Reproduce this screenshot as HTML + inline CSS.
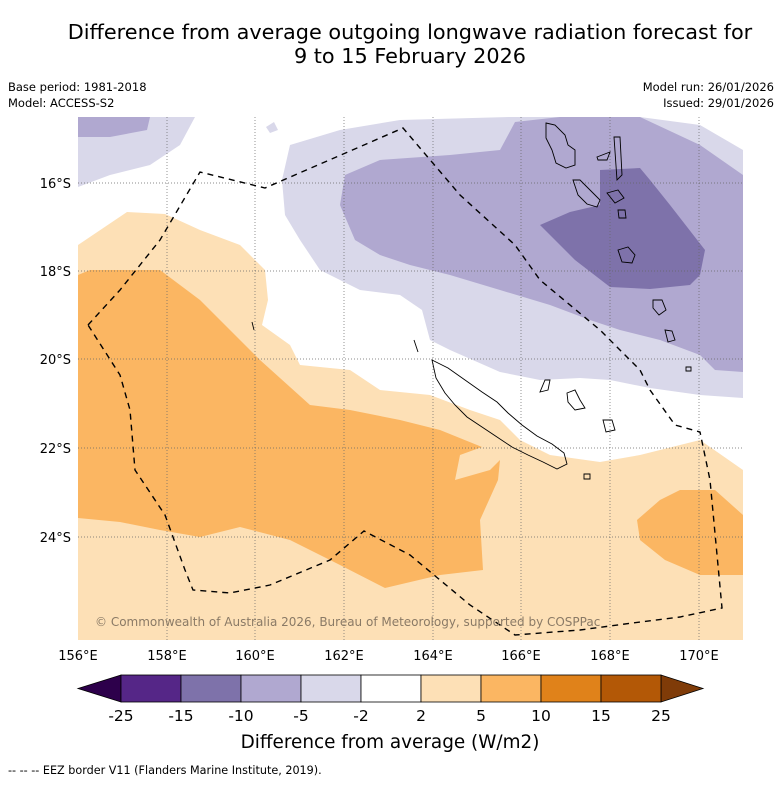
<!DOCTYPE html>
<html><head><meta charset="utf-8"><style>
body{margin:0;background:#fff;width:781px;height:781px;overflow:hidden;font-family:"Liberation Sans","DejaVu Sans",sans-serif}
</style></head><body>
<svg width="781" height="781" xmlns="http://www.w3.org/2000/svg" font-family="'DejaVu Sans','Liberation Sans',sans-serif">
<text x="410" y="39" font-size="20.8" text-anchor="middle">Difference from average outgoing longwave radiation forecast for</text>
<text x="410" y="63" font-size="20.8" text-anchor="middle">9 to 15 February 2026</text>
<text x="8" y="91" font-size="11.5">Base period: 1981-2018</text>
<text x="8" y="107" font-size="11.5">Model: ACCESS-S2</text>
<text x="774" y="91" font-size="11.5" text-anchor="end">Model run: 26/01/2026</text>
<text x="774" y="107" font-size="11.5" text-anchor="end">Issued: 29/01/2026</text>
<defs><clipPath id="mc"><rect x="78" y="117" width="665" height="523"/></clipPath></defs>
<g clip-path="url(#mc)">
<rect x="78" y="117" width="665" height="523" fill="#fff"/>
<path fill="#fde0b6" d="M78,245 L127,212 L165,214 L200,230 L240,245 L265,270 L268,300 L262,325 L290,345 L300,365 L350,370 L380,390 L430,395 L470,410 L500,420 L520,440 L550,455 L600,462 L640,455 L700,440 L743,470 L743,640 L78,640Z"/>
<path fill="#fbb662" d="M78,275 L90,270 L160,270 L200,300 L260,360 L310,405 L350,410 L400,420 L440,430 L482,447 L460,455 L455,480 L490,470 L500,460 L498,480 L480,520 L483,570 L440,575 L385,588 L340,565 L290,540 L240,527 L200,537 L160,530 L120,522 L78,518Z"/>
<path fill="#fbb662" d="M637,520 L660,500 L680,490 L715,490 L743,515 L743,575 L700,575 L665,560 L640,540Z"/>
<path fill="#d9d8ea" d="M78,117 L195,117 L180,145 L150,165 L110,175 L78,187Z"/>
<path fill="#d9d8ea" d="M290,145 L340,130 L400,120 L510,117 L640,117 L700,125 L743,150 L743,398 L700,395 L650,388 L610,380 L580,378 L540,380 L500,372 L450,350 L430,340 L422,310 L400,295 L360,290 L320,270 L300,240 L285,215 L282,180Z"/>
<path fill="#d9d8ea" d="M266,127 L274,122 L278,130 L270,133Z"/>
<path fill="#b0a8d0" d="M78,117 L150,117 L147,130 L110,137 L78,137Z"/>
<path fill="#b0a8d0" d="M345,175 L380,160 L450,155 L500,150 L515,122 L560,117 L640,117 L700,145 L743,175 L743,372 L715,370 L700,355 L660,340 L620,330 L590,320 L550,305 L500,290 L450,275 L410,265 L380,255 L355,240 L340,205Z"/>
<path fill="#7e72aa" d="M540,225 L570,212 L600,205 L600,170 L640,168 L650,180 L670,205 L705,250 L700,275 L690,285 L650,289 L610,287 L575,260Z"/>
<g stroke="#666" stroke-width="0.7" stroke-dasharray="1,2">
<line x1="167" y1="117" x2="167" y2="640"/><line x1="255" y1="117" x2="255" y2="640"/><line x1="344" y1="117" x2="344" y2="640"/><line x1="433" y1="117" x2="433" y2="640"/><line x1="521" y1="117" x2="521" y2="640"/><line x1="610" y1="117" x2="610" y2="640"/><line x1="699" y1="117" x2="699" y2="640"/>
<line x1="78" y1="183" x2="743" y2="183"/><line x1="78" y1="271" x2="743" y2="271"/><line x1="78" y1="359" x2="743" y2="359"/><line x1="78" y1="448" x2="743" y2="448"/><line x1="78" y1="537" x2="743" y2="537"/>
</g>
<g fill="none" stroke="#000" stroke-width="0.9">
<path d="M432,360 L448,368 L465,380 L482,392 L497,402 L508,413 L522,425 L537,436 L552,444 L564,453 L567,464 L557,469 L543,462 L528,455 L512,447 L497,437 L482,427 L467,417 L455,405 L445,393 L436,378Z"/>
<path d="M546,123 L555,125 L565,135 L568,145 L575,150 L575,165 L566,168 L556,163 L552,150 L546,138Z"/>
<path d="M573,180 L580,180 L590,190 L600,200 L597,207 L587,204 L578,195Z"/>
<path d="M614,137 L620,137 L622,175 L617,180Z"/><path d="M597,157 L610,152 L607,160 L598,160Z"/>
<path d="M607,193 L618,190 L624,198 L615,203Z"/><path d="M618,210 L625,210 L626,218 L619,218Z"/>
<path d="M618,250 L628,247 L635,255 L632,263 L622,262Z"/>
<path d="M653,300 L662,300 L666,310 L659,315 L653,308Z"/><path d="M665,330 L672,331 L675,340 L668,342Z"/>
<path d="M686,367 L691,367 L691,371 L686,371Z"/>
<path d="M545,380 L550,380 L548,390 L540,392Z"/><path d="M567,393 L575,390 L580,400 L585,408 L575,410 L568,402Z"/>
<path d="M603,420 L612,420 L615,430 L606,432Z"/><path d="M584,474 L590,474 L590,479 L584,479Z"/>
<path d="M414,340 L418,352"/><path d="M252,322 L254,330"/>
</g>
<path fill="none" stroke="#000" stroke-width="1.4" stroke-dasharray="6,5" d="M88,325 L120,290 L160,240 L200,172 L265,188 L403,128 L460,195 L515,245 L540,280 L600,330 L640,370 L650,390 L675,425 L700,432 L710,480 L722,608 L680,617 L640,622 L580,630 L515,635 L470,605 L440,580 L410,555 L364,531 L330,560 L270,585 L230,593 L193,590 L185,570 L165,515 L135,470 L130,410 L120,375Z"/>
<text x="95" y="626" font-size="12" fill="#8a7a66">© Commonwealth of Australia 2026, Bureau of Meteorology, supported by COSPPac</text>
</g>
<g font-size="13" text-anchor="end">
<text x="71" y="188">16°S</text><text x="71" y="276">18°S</text><text x="71" y="364">20°S</text><text x="71" y="453">22°S</text><text x="71" y="542">24°S</text>
</g>
<g font-size="13" text-anchor="middle">
<text x="78" y="660">156°E</text><text x="167" y="660">158°E</text><text x="255" y="660">160°E</text><text x="344" y="660">162°E</text><text x="433" y="660">164°E</text><text x="521" y="660">166°E</text><text x="610" y="660">168°E</text><text x="699" y="660">170°E</text>
</g>
<g id="cbar"></g>
<text x="390" y="748" font-size="18.4" text-anchor="middle">Difference from average (W/m2)</text>
<text x="8" y="774" font-size="11.2">--  --  -- EEZ border V11 (Flanders Marine Institute, 2019).</text>
</svg>
<script>
const levels=[-25,-15,-10,-5,-2,2,5,10,15,25];
const colors=["#552687","#7e72aa","#b0a8d0","#d9d8ea","#ffffff","#fde0b6","#fbb662","#e0821a","#b35806"];
const extendColors=["#2d004b","#7f3b08"];
const ns="http://www.w3.org/2000/svg";
const g=document.getElementById('cbar');
const x0=121,w=60,y0=675,h=27;
const bx=i=>x0+i*w;
function mk(t,a){const e=document.createElementNS(ns,t);for(const k in a)e.setAttribute(k,a[k]);g.appendChild(e);return e;}
let t1=mk('polygon',{points:`${bx(0)},${y0} ${bx(0)},${y0+h} 78,${y0+h/2}`,fill:extendColors[0],stroke:'#000','stroke-width':0.8});


let t2=mk('polygon',{points:`${bx(colors.length)},${y0} ${bx(colors.length)},${y0+h} 703,${y0+h/2}`,fill:extendColors[1],stroke:'#000','stroke-width':0.8});


colors.forEach((c,i)=>{const r=mk('rect',{x:bx(i),y:y0,width:w,height:h,fill:c,stroke:'#000','stroke-width':0.8});

});
levels.forEach((v,i)=>{const t=mk('text',{x:bx(i),y:721,'font-size':15.5,'text-anchor':'middle'});t.textContent=v;

});
</script>
</body></html>
